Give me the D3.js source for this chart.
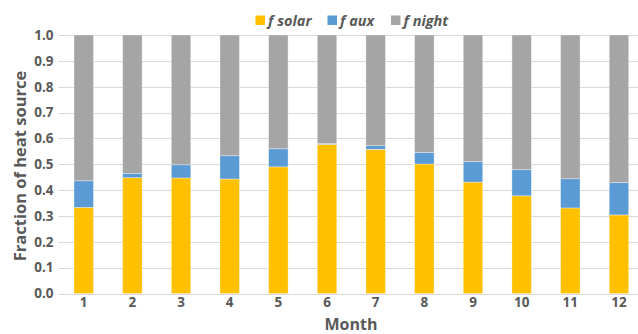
<!DOCTYPE html>
<html>
<head>
<meta charset="utf-8">
<script src="https://cdn.jsdelivr.net/npm/d3@7"></script>
<style>
  html, body { margin: 0; padding: 0; background: #fff; }
  svg { display: block; font-family: "Open Sans", Lato, sans-serif; }
</style>
</head>
<body>
<svg id="chart" width="638" height="334"></svg>
<script>
// Monthly fraction of heat supplied by each source
const months = ["1", "2", "3", "4", "5", "6", "7", "8", "9", "10", "11", "12"];
const fSolar = [0.333, 0.448, 0.447, 0.443, 0.490, 0.577, 0.558, 0.501, 0.431, 0.378, 0.331, 0.304];
const fAux   = [0.103, 0.017, 0.051, 0.090, 0.070, 0.003, 0.014, 0.045, 0.079, 0.101, 0.113, 0.125];
const fNight = fSolar.map((s, i) => +(1 - s - fAux[i]).toFixed(3));
const seriesNames = ["f solar", "f aux", "f night"];
const seriesColors = ["#FFC000", "#5B9BD5", "#A5A5A5"];
const yTicks = [0, 0.1, 0.2, 0.3, 0.4, 0.5, 0.6, 0.7, 0.8, 0.9, 1.0];

const rows = months.map((m, i) => ({ month: m, "f solar": fSolar[i], "f aux": fAux[i], "f night": fNight[i] }));
const stacked = d3.stack().keys(seriesNames)(rows);

const svg = d3.select("#chart");
const textColor = "#595959";
const font = "'Open Sans', Lato, sans-serif";
const plot = { left: 59.4, right: 643.3, top: 35, bottom: 293.5 };

const x = d3.scaleBand().domain(months).range([plot.left, plot.right]).paddingInner(0.6).paddingOuter(0.3);
const y = d3.scaleLinear().domain([0, 1]).range([plot.bottom, plot.top]);

// gridlines
svg.append("g")
  .selectAll("line")
  .data(yTicks)
  .join("line")
  .attr("x1", 58.5).attr("x2", 638)
  .attr("y1", d => Math.round(y(d)) + 0.5).attr("y2", d => Math.round(y(d)) + 0.5)
  .attr("stroke", "#D9D9D9").attr("stroke-width", 1);

// stacked bars
svg.append("g")
  .selectAll("g")
  .data(stacked)
  .join("g")
  .attr("fill", (d, i) => seriesColors[i])
  .selectAll("rect")
  .data(d => d)
  .join("rect")
  .attr("x", d => x(d.data.month))
  .attr("width", x.bandwidth())
  .attr("y", d => y(d[1]))
  .attr("height", d => y(d[0]) - y(d[1]))
  .attr("stroke", "#fff").attr("stroke-opacity", 0.45).attr("stroke-width", 0.75);

// y axis labels
const yAxis = d3.axisLeft(y).tickValues(yTicks).tickFormat(d3.format(".1f")).tickSize(0).tickPadding(0);
const yg = svg.append("g").attr("transform", "translate(53.5,0)").call(yAxis);
yg.select(".domain").remove();
yg.selectAll("text")
  .attr("fill", textColor).attr("font-size", 13.5).attr("font-weight", "bold")
  .attr("font-family", font);

// x axis labels
const xAxis = d3.axisBottom(x).tickSize(0).tickPadding(0);
const xg = svg.append("g").attr("transform", `translate(0,${plot.bottom + 4})`).call(xAxis);
xg.select(".domain").remove();
xg.selectAll("text")
  .attr("fill", textColor).attr("font-size", 13.5).attr("font-weight", "bold")
  .attr("font-family", font);

// axis titles
svg.append("text")
  .attr("x", 351).attr("y", 329.5)
  .attr("text-anchor", "middle")
  .attr("fill", textColor).attr("font-size", 16).attr("font-weight", "bold")
  .text("Month");

svg.append("text")
  .attr("transform", "translate(26,166) rotate(-90)")
  .attr("text-anchor", "middle")
  .attr("fill", textColor).attr("font-size", 16.5).attr("font-weight", "bold")
  .text("Fraction of heat source");

// legend
const legendX = [255.5, 327.5, 391];
const legend = svg.append("g");
seriesNames.forEach((name, i) => {
  legend.append("rect")
    .attr("x", legendX[i]).attr("y", 15.5).attr("width", 9.5).attr("height", 9.5)
    .attr("fill", seriesColors[i]);
  legend.append("text")
    .attr("x", legendX[i] + 12.5).attr("y", 25.5)
    .attr("fill", textColor).attr("font-size", 14.5).attr("font-weight", "bold").attr("font-style", "italic")
    .text(name);
});
</script>
</body>
</html>
